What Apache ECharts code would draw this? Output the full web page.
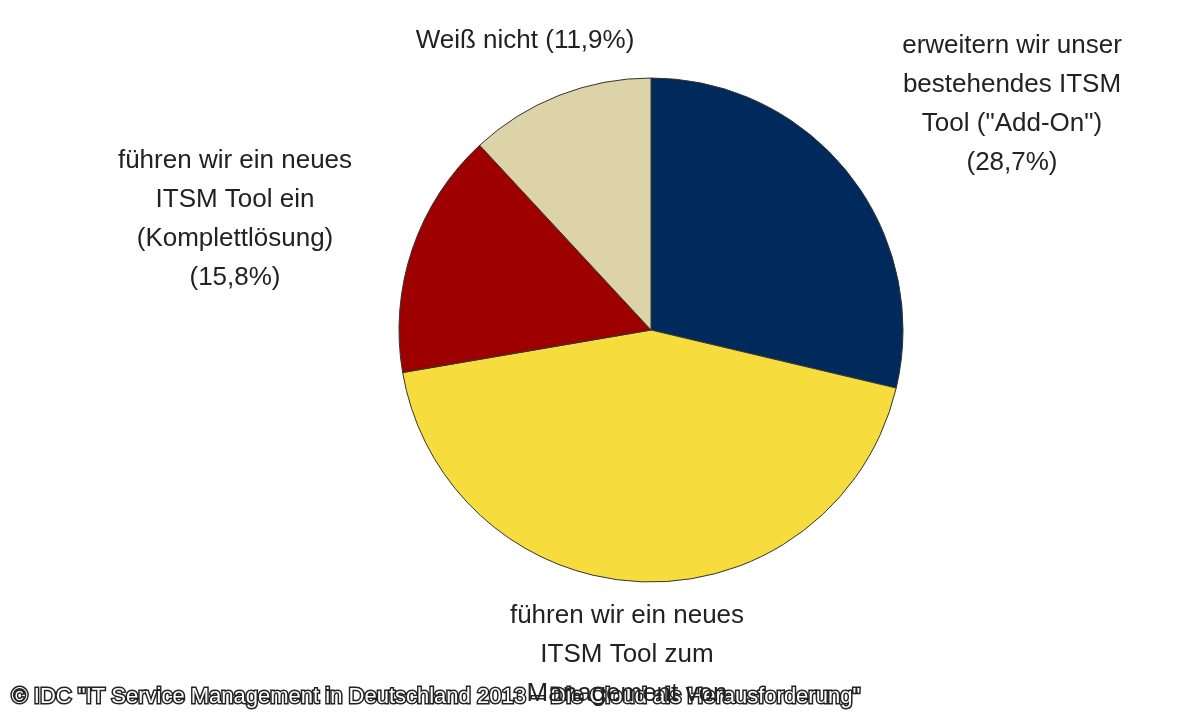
<!DOCTYPE html>
<html><head><meta charset="utf-8">
<script src="https://cdn.jsdelivr.net/npm/echarts@6/dist/echarts.min.js"></script>
<style>html,body{margin:0;padding:0;background:#fff}#c{width:1200px;height:720px}</style>
</head><body><div id="c"></div>
<script>
const categories = ['erweitern wir unser\nbestehendes ITSM\nTool ("Add-On")', 'führen wir ein neues\nITSM Tool zum\nManagement von\nCloud Services ein', 'führen wir ein neues\nITSM Tool ein\n(Komplettlösung)', 'Weiß nicht'];
const values = [28.7, 43.6, 15.8, 11.9];
const colors = ['#002a5c', '#f6dc3c', '#9e0000', '#ddd3a8'];
const labelPos = [[1012, 26], [627, 596], [235, 141], [525, 21]];
const chart = echarts.init(document.getElementById('c'));
chart.setOption({
  animation: false,
  series: [{
    type: 'pie', center: [651, 330], radius: 252, startAngle: 90, clockwise: true,
    data: categories.map((n, i) => ({name: n, value: values[i], itemStyle: {color: colors[i]}})),
    itemStyle: {borderColor: '#333', borderWidth: 1},
    label: {
      formatter: p => p.name + (p.dataIndex === 3 ? ' ' : '\n') + '(' + p.value.toFixed(1).replace('.', ',') + '%)',
      fontFamily: 'Liberation Sans', fontSize: 26, lineHeight: 39, color: '#222', align: 'center'
    },
    labelLine: {show: false},
    labelLayout: p => ({x: labelPos[p.dataIndex][0], y: labelPos[p.dataIndex][1], align: 'center', verticalAlign: 'top'})
  }],
  graphic: [{type: 'text', left: 10, top: 684, style: {text: '© IDC "IT Service Management in Deutschland 2013 – Die Cloud als Herausforderung"', fontFamily: 'Liberation Sans', fontSize: 22, fill: '#fff', stroke: '#222', lineWidth: 3}}]
});
</script></body></html>
